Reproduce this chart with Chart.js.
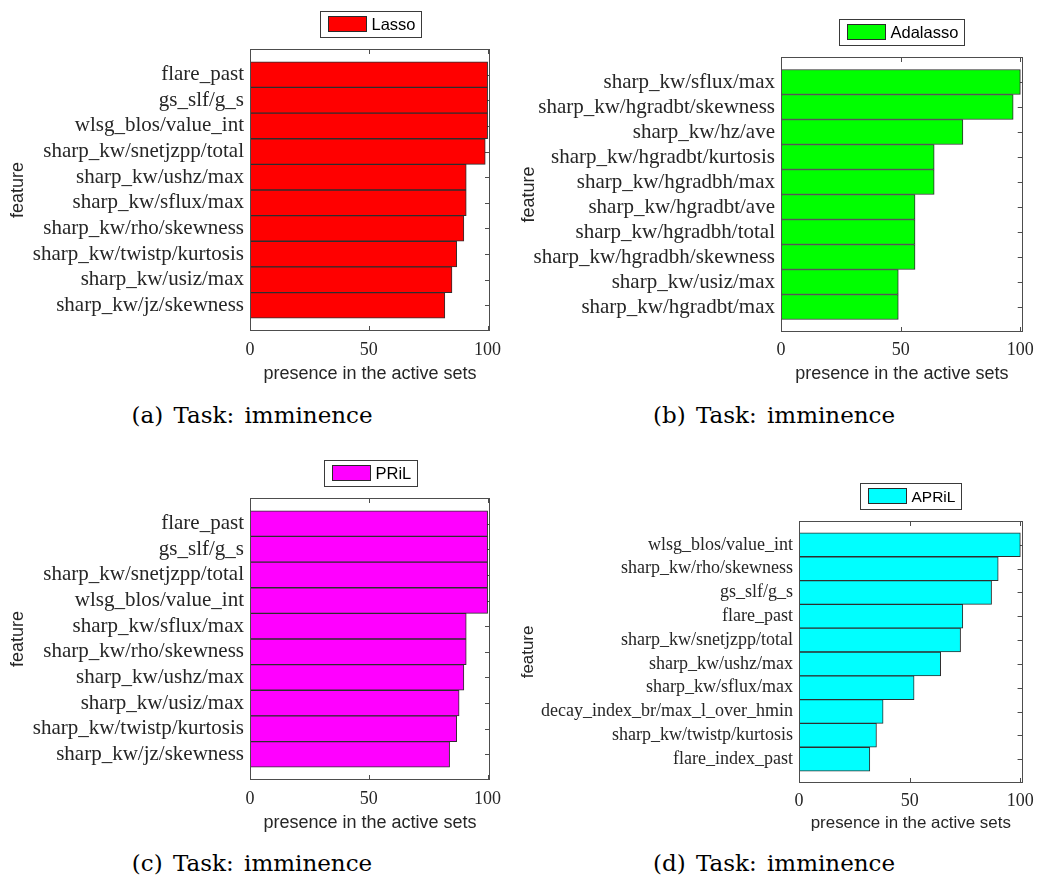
<!DOCTYPE html>
<html>
<head>
<meta charset="utf-8">
<script src="https://cdn.jsdelivr.net/npm/chart.js@4.4.1/dist/chart.umd.min.js"></script>
<style>
  body { margin: 0; background: #fff; width: 1041px; height: 880px; position: relative; overflow: hidden; }
  .panel { position: absolute; }
  .caption {
    position: absolute; transform: translateX(-50%); white-space: nowrap;
    font-family: "DejaVu Serif", serif; font-size: 23px; line-height: 23px;
    word-spacing: 3px; color: #000;
  }
</style>
</head>
<body>
<div class="panel" style="left:0px;top:0px;width:520px;height:395px"><canvas id="chartA"></canvas></div>
<div class="panel" style="left:520px;top:0px;width:521px;height:395px"><canvas id="chartB"></canvas></div>
<div class="panel" style="left:0px;top:430px;width:520px;height:414px"><canvas id="chartC"></canvas></div>
<div class="panel" style="left:520px;top:430px;width:521px;height:414px"><canvas id="chartD"></canvas></div>
<div class="caption" style="left:252px;top:404px">(a) Task: imminence</div>
<div class="caption" style="left:774px;top:404px">(b) Task: imminence</div>
<div class="caption" style="left:252px;top:852px">(c) Task: imminence</div>
<div class="caption" style="left:774px;top:852px">(d) Task: imminence</div>

<script>
// features, top to bottom, and their presence in the active sets
const lassoFeatures = ['flare_past', 'gs_slf/g_s', 'wlsg_blos/value_int', 'sharp_kw/snetjzpp/total',
  'sharp_kw/ushz/max', 'sharp_kw/sflux/max', 'sharp_kw/rho/skewness', 'sharp_kw/twistp/kurtosis',
  'sharp_kw/usiz/max', 'sharp_kw/jz/skewness'];
const lassoValues = [100, 100, 100, 99, 91, 91, 90, 87, 85, 82];

const adalassoFeatures = ['sharp_kw/sflux/max', 'sharp_kw/hgradbt/skewness', 'sharp_kw/hz/ave',
  'sharp_kw/hgradbt/kurtosis', 'sharp_kw/hgradbh/max', 'sharp_kw/hgradbt/ave', 'sharp_kw/hgradbh/total',
  'sharp_kw/hgradbh/skewness', 'sharp_kw/usiz/max', 'sharp_kw/hgradbt/max'];
const adalassoValues = [100, 97, 76, 64, 64, 56, 56, 56, 49, 49];

const prilFeatures = ['flare_past', 'gs_slf/g_s', 'sharp_kw/snetjzpp/total', 'wlsg_blos/value_int',
  'sharp_kw/sflux/max', 'sharp_kw/rho/skewness', 'sharp_kw/ushz/max', 'sharp_kw/usiz/max',
  'sharp_kw/twistp/kurtosis', 'sharp_kw/jz/skewness'];
const prilValues = [100, 100, 100, 100, 91, 91, 90, 88, 87, 84];

const aprilFeatures = ['wlsg_blos/value_int', 'sharp_kw/rho/skewness', 'gs_slf/g_s', 'flare_past',
  'sharp_kw/snetjzpp/total', 'sharp_kw/ushz/max', 'sharp_kw/sflux/max', 'decay_index_br/max_l_over_hmin',
  'sharp_kw/twistp/kurtosis', 'flare_index_past'];
const aprilValues = [100, 90, 87, 74, 73, 64, 52, 38, 35, 32];

const xTicks = [0, 50, 100];
const xMax = 101;

// inward tick marks + box around the axes, like matlab
const axesBox = {
  id: 'axesBox',
  beforeDatasetsDraw(chart) {
    const {ctx, chartArea: {left, right, top, bottom}, scales: {x, y}} = chart;
    ctx.save();
    ctx.strokeStyle = '#4d4d4d';
    ctx.lineWidth = 1;
    ctx.beginPath();
    x.ticks.forEach(t => {
      const px = Math.round(x.getPixelForValue(t.value)) + 0.5;
      ctx.moveTo(px, bottom); ctx.lineTo(px, bottom - 5);
      ctx.moveTo(px, top); ctx.lineTo(px, top + 5);
    });
    y.ticks.forEach(t => {
      const py = Math.round(y.getPixelForValue(t.value)) + 0.5;
      ctx.moveTo(left, py); ctx.lineTo(left + 5, py);
      ctx.moveTo(right, py); ctx.lineTo(right - 5, py);
    });
    ctx.stroke();
    ctx.restore();
  },
  afterDatasetsDraw(chart) {
    const {ctx, chartArea: {left, right, top, bottom}} = chart;
    ctx.save();
    ctx.strokeStyle = '#4d4d4d';
    ctx.lineWidth = 1;
    ctx.strokeRect(Math.round(left) + 0.5, Math.round(top) + 0.5,
      Math.round(right - left) - 1, Math.round(bottom - top) - 1);
    ctx.restore();
  }
};

// legend with a frame, centered over the plot
const boxLegend = {
  id: 'boxLegend',
  afterDraw(chart, args, opts) {
    const {ctx, chartArea} = chart;
    const ds = chart.data.datasets[0];
    ctx.save();
    ctx.font = opts.size + 'px "Liberation Sans", Arial, sans-serif';
    const tw = ctx.measureText(ds.label).width;
    const w = Math.round(8 + 38 + 5 + tw + 6), h = 26;
    const cx = (chartArea.left + chartArea.right) / 2;
    const x0 = Math.round(cx - w / 2) + 0.5;
    const y0 = Math.round(chartArea.top) - 12 - h + 0.5;
    ctx.fillStyle = '#fff';
    ctx.fillRect(x0, y0, w, h);
    ctx.strokeStyle = '#3a3a3a';
    ctx.lineWidth = 1;
    ctx.strokeRect(x0, y0, w, h);
    ctx.fillStyle = ds.backgroundColor;
    ctx.fillRect(x0 + 8, y0 + 5, 38, 15);
    ctx.strokeStyle = '#2a2a2a';
    ctx.strokeRect(x0 + 8, y0 + 5, 38, 15);
    ctx.fillStyle = '#000';
    ctx.textBaseline = 'middle';
    ctx.fillText(ds.label, x0 + 8 + 38 + 5, y0 + h / 2 + 1);
    ctx.restore();
  }
};

function makeChart(id, label, color, features, values, lay) {
  const s = lay.scale;
  return new Chart(document.getElementById(id), {
    type: 'bar',
    data: {
      datasets: [{
        label: label,
        data: values.map((v, i) => ({x: v, y: i + 1})),
        backgroundColor: color,
        borderColor: '#2e2e2e',
        borderWidth: 1,
        borderSkipped: false,
        barPercentage: 1,
        categoryPercentage: 1
      }]
    },
    options: {
      indexAxis: 'y',
      responsive: true,
      maintainAspectRatio: false,
      animation: false,
      layout: { padding: { top: lay.padTop, right: lay.padRight, left: 0, bottom: 0 } },
      plugins: {
        legend: { display: false },
        tooltip: { enabled: false },
        boxLegend: { size: 16.5 * s }
      },
      scales: {
        x: {
          type: 'linear',
          min: 0,
          max: xMax,
          grid: { display: false, drawTicks: false },
          border: { display: false },
          afterBuildTicks: scale => { scale.ticks = xTicks.map(v => ({value: v})); },
          afterFit: scale => { scale.height = lay.xHeight; },
          ticks: {
            padding: lay.xTickPad,
            color: '#262626',
            font: { family: '"Liberation Serif", serif', size: 18 }
          },
          title: {
            display: true,
            text: 'presence in the active sets',
            color: '#262626',
            padding: { top: 0, bottom: 12 },
            font: { family: '"Liberation Sans", Arial, sans-serif', size: 18 * s, lineHeight: 1 }
          }
        },
        y: {
          type: 'linear',
          reverse: true,
          offset: false,
          min: 0,
          max: features.length + 1,
          grid: { display: false, drawTicks: false, offset: false },
          border: { display: false },
          afterBuildTicks: scale => { scale.ticks = features.map((f, i) => ({value: i + 1})); },
          afterFit: scale => { scale.width = lay.yWidth; },
          ticks: {
            autoSkip: false,
            padding: 6,
            color: '#262626',
            font: { family: '"Liberation Serif", serif', size: lay.yFont },
            callback: v => features[v - 1]
          },
          title: {
            display: true,
            text: 'feature',
            color: '#262626',
            padding: { top: lay.yTitlePad, bottom: 0 },
            font: { family: '"Liberation Sans", Arial, sans-serif', size: 18 * s, lineHeight: 1 }
          }
        }
      }
    },
    plugins: [axesBox, boxLegend]
  });
}

makeChart('chartA', 'Lasso', '#ff0000', lassoFeatures, lassoValues,
  {padTop: 49, padRight: 30, yWidth: 250, xHeight: 64, xTickPad: 8, yTitlePad: 9, yFont: 21, scale: 1});
makeChart('chartB', 'Adalasso', '#00ff00', adalassoFeatures, adalassoValues,
  {padTop: 57, padRight: 15, yWidth: 261, xHeight: 63, xTickPad: 7, yTitlePad: 0, yFont: 21, scale: 1});
makeChart('chartC', 'PRiL', '#ff00ff', prilFeatures, prilValues,
  {padTop: 68, padRight: 30, yWidth: 250, xHeight: 64, xTickPad: 8, yTitlePad: 9, yFont: 21, scale: 1});
makeChart('chartD', 'APRiL', '#00ffff', aprilFeatures, aprilValues,
  {padTop: 91, padRight: 15, yWidth: 279, xHeight: 61, xTickPad: 7, yTitlePad: 0, yFont: 18, scale: 0.94});
</script>
</body>
</html>
